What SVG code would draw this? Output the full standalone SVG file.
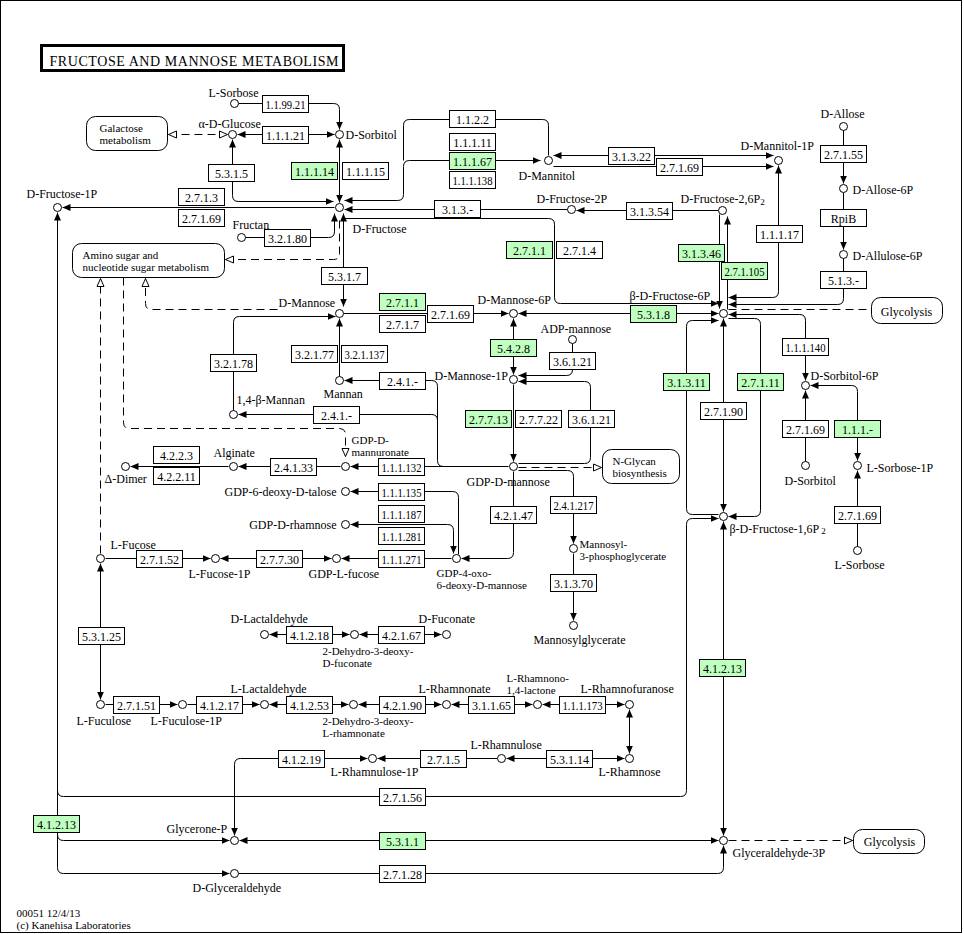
<svg xmlns="http://www.w3.org/2000/svg" width="964" height="934" viewBox="0 0 964 934">
<defs>
<style>
.l{fill:none;stroke:#000;stroke-width:1}
.d{fill:none;stroke:#000;stroke-width:1;stroke-dasharray:8,5}
.n circle{fill:#fff;stroke:#000;stroke-width:1}
.e rect{fill:#fff;stroke:#000;stroke-width:1}
.g rect{fill:#bfffbf;stroke:#000;stroke-width:1}
.m rect{fill:#fff;stroke:#000;stroke-width:1}
text{font-family:"Liberation Serif","Times New Roman",serif;font-size:12px;fill:#000}
.e text,.g text,.t{text-anchor:middle}
.r{text-anchor:end}
.s{font-size:9px}
.k{font-size:11px}
</style>
<marker id="a" viewBox="0 0 8 8" refX="8" refY="4" markerWidth="8" markerHeight="8" markerUnits="userSpaceOnUse" orient="auto-start-reverse"><path d="M0,0.5 L8,4 L0,7.5 z" fill="#000"/></marker>
<marker id="h" viewBox="0 0 10 10" refX="9" refY="5" markerWidth="10" markerHeight="10" markerUnits="userSpaceOnUse" orient="auto-start-reverse"><path d="M1,1.5 L9,5 L1,8.5 z" fill="#fff" stroke="#000" stroke-width="1" stroke-dasharray="none"/></marker>
</defs>
<rect x="0" y="0" width="964" height="934" fill="#fff"/>
<g transform="translate(0.5,0.5)">
<rect x="0" y="0" width="961" height="932" fill="none" stroke="#000"/>
<g id="title">
<rect x="41" y="45" width="302" height="25" fill="#fff" stroke="#000" stroke-width="3"/>
<text x="49" y="65" style="font-size:14px" textLength="289" lengthAdjust="spacing">FRUCTOSE AND MANNOSE METABOLISM</text>
</g>

<g id="connectors">
<path class="l" d="M238,103 H333 Q339,103 339,109 V129" marker-end="url(#a)"/>
<path class="l" d="M237,134 H334" marker-start="url(#a)" marker-end="url(#a)"/>
<path class="d" d="M168,134 H227" marker-start="url(#h)" marker-end="url(#h)"/>
<path class="l" d="M232,139 V195 Q232,201 238,201 H333" marker-start="url(#a)" marker-end="url(#a)"/>
<path class="l" d="M339,139 V202" marker-start="url(#a)" marker-end="url(#a)"/>
<path class="l" d="M334,207 H62" marker-end="url(#a)"/>
<path class="l" d="M245,237 H328 Q334,237 334,231 V213" marker-end="url(#a)"/>
<path class="l" d="M343,213 V306" marker-start="url(#a)" marker-end="url(#a)"/>
<path class="l" d="M343,218 H548 Q554,218 554,224 V297 Q554,303 560,303 H718" marker-end="url(#a)"/>
<path class="d" d="M339,220 V253 Q339,259 333,259 H225" marker-end="url(#h)"/>
<path class="l" d="M540,160 H409 Q403,160 403,166 V194 Q403,200 397,200 H344" marker-start="url(#a)" marker-end="url(#a)"/>
<path class="l" d="M548,155 V125 Q548,119 542,119 H409 Q403,119 403,125 V160"/>
<path class="l" d="M567,209 H344" marker-end="url(#a)"/>
<path class="l" d="M718,210 H576" marker-end="url(#a)"/>
<path class="l" d="M773,155 H553" marker-start="url(#a)" marker-end="url(#a)"/>
<path class="l" d="M553,166 H773" marker-end="url(#a)"/>
<path class="l" d="M778,165 V291 Q778,297 772,297 H728" marker-start="url(#a)" marker-end="url(#a)"/>
<path class="l" d="M719,214 V308" marker-end="url(#a)"/>
<path class="l" d="M727,309 V216" marker-end="url(#a)"/>
<path class="l" d="M843,258 V298 Q843,304 837,304 H728" marker-end="url(#a)"/>
<path class="l" d="M843,130 V183" marker-end="url(#a)"/>
<path class="l" d="M843,192 V249" marker-end="url(#a)"/>
<path class="d" d="M728,309 H871"/>
<path class="l" d="M728,314 H799 Q805,314 805,320 V380" marker-start="url(#a)" marker-end="url(#a)"/>
<path class="l" d="M805,461 V390" marker-end="url(#a)"/>
<path class="l" d="M810,385 H851 Q857,385 857,391 V460" marker-start="url(#a)" marker-end="url(#a)"/>
<path class="l" d="M857,546 V470" marker-end="url(#a)"/>
<path class="l" d="M518,313 H718" marker-start="url(#a)" marker-end="url(#a)"/>
<path class="l" d="M718,514 H692 Q686,514 686,508 V326 Q686,320 692,320 H718" marker-end="url(#a)"/>
<path class="l" d="M728,318 H754 Q760,318 760,324 V510 Q760,516 754,516 H728" marker-end="url(#a)"/>
<path class="l" d="M723,318 V511" marker-start="url(#a)" marker-end="url(#a)"/>
<path class="l" d="M57,790 Q57,796 63,796 H680 Q686,796 686,790 V524 Q686,518 692,518 H718" marker-end="url(#a)"/>
<path class="l" d="M57,212 V867 Q57,873 63,873 H229" marker-start="url(#a)" marker-end="url(#a)"/>
<path class="l" d="M57,834 Q57,840 63,840 H229" marker-end="url(#a)"/>
<path class="l" d="M239,840 H718" marker-start="url(#a)" marker-end="url(#a)"/>
<path class="l" d="M238,873 H717 Q723,873 723,867 V845" marker-end="url(#a)"/>
<path class="l" d="M723,521 V835" marker-start="url(#a)" marker-end="url(#a)"/>
<path class="d" d="M728,840 H852" marker-end="url(#h)"/>
<path class="l" d="M367,758 H240 Q234,758 234,764 V835" marker-start="url(#a)" marker-end="url(#a)"/>
<path class="l" d="M497,758 H377" marker-end="url(#a)"/>
<path class="l" d="M624,758 H506" marker-start="url(#a)" marker-end="url(#a)"/>
<path class="l" d="M629,709 V753" marker-start="url(#a)" marker-end="url(#a)"/>
<path class="l" d="M542,704 H624" marker-start="url(#a)" marker-end="url(#a)"/>
<path class="l" d="M451,704 H532" marker-start="url(#a)" marker-end="url(#a)"/>
<path class="l" d="M358,704 H441" marker-start="url(#a)" marker-end="url(#a)"/>
<path class="l" d="M269,704 H348" marker-start="url(#a)" marker-end="url(#a)"/>
<path class="l" d="M187,704 H259" marker-end="url(#a)"/>
<path class="l" d="M105,704 H177" marker-end="url(#a)"/>
<path class="l" d="M100,563 V699" marker-start="url(#a)" marker-end="url(#a)"/>
<path class="l" d="M269,634 H349" marker-start="url(#a)" marker-end="url(#a)"/>
<path class="l" d="M359,634 H441" marker-start="url(#a)" marker-end="url(#a)"/>
<path class="l" d="M105,558 H210" marker-end="url(#a)"/>
<path class="l" d="M220,558 H331" marker-start="url(#a)" marker-end="url(#a)"/>
<path class="l" d="M451,558 H341" marker-end="url(#a)"/>
<path class="l" d="M513,471 V552 Q513,558 507,558 H461" marker-end="url(#a)"/>
<path class="l" d="M458,554 V497 Q458,491 452,491 H350" marker-end="url(#a)"/>
<path class="l" d="M350,524 H447 Q453,524 453,530 V553" marker-start="url(#a)" marker-end="url(#a)"/>
<path class="l" d="M508,466 H350" marker-end="url(#a)"/>
<path class="l" d="M443,466 Q437,466 437,460 V386 Q437,380 431,380 H344" marker-end="url(#a)"/>
<path class="l" d="M437,420 Q437,414 431,414 H238" marker-end="url(#a)"/>
<path class="l" d="M339,376 V318" marker-end="url(#a)"/>
<path class="l" d="M233,410 V322 Q233,316 239,316 H335" marker-end="url(#a)"/>
<path class="l" d="M343,313 H508" marker-end="url(#a)"/>
<path class="l" d="M513,318 V374" marker-start="url(#a)" marker-end="url(#a)"/>
<path class="l" d="M572,343 V369 Q572,375 566,375 H518" marker-end="url(#a)"/>
<path class="l" d="M518,463 H584 Q590,463 590,457 V387 Q590,381 584,381 H518" marker-end="url(#a)"/>
<path class="l" d="M513,384 V461" marker-end="url(#a)"/>
<path class="d" d="M518,467 H601" marker-end="url(#h)"/>
<path class="l" d="M518,470 H567 Q573,470 573,476 V543" marker-end="url(#a)"/>
<path class="l" d="M573,553 V620" marker-end="url(#a)"/>
<path class="l" d="M340,466 H238" marker-end="url(#a)"/>
<path class="l" d="M228,466 H130" marker-end="url(#a)"/>
<path class="d" d="M100,553 V278" marker-end="url(#h)"/>
<path class="d" d="M123,277 V422 Q123,428 129,428 H339 Q345,428 345,434 V456" marker-end="url(#h)"/>
<path class="d" d="M277,309 H151 Q145,309 145,303 V278" marker-end="url(#h)"/>
</g>

<g id="maps">
<g id="m_galactose" class="m"><rect x="86" y="116" width="81" height="34" rx="9"/><text x="99" y="131" class="k">Galactose</text><text x="99" y="143" class="k">metabolism</text></g>
<g id="m_aminosugar" class="m"><rect x="72" y="243" width="152" height="34" rx="9"/><text x="82" y="258" class="k">Amino sugar and</text><text x="82" y="270" class="k">nucleotide sugar metabolism</text></g>
<g id="m_glycolysis1" class="m"><rect x="871" y="297" width="71" height="26" rx="9"/><text x="906" y="315" class="t">Glycolysis</text></g>
<g id="m_nglycan" class="m"><rect x="602" y="449" width="77" height="34" rx="9"/><text x="612" y="464" class="k">N-Glycan</text><text x="612" y="476" class="k">biosynthesis</text></g>
<g id="m_glycolysis2" class="m"><rect x="853" y="829" width="71" height="24" rx="9"/><text x="889" y="845" class="t">Glycolysis</text></g>
</g>

<g id="compounds">
<g id="c_lsorbose" class="n"><circle cx="234" cy="103" r="4"/><text x="208" y="96">L-Sorbose</text></g>
<g id="c_aglucose" class="n"><circle cx="232" cy="134" r="4"/><text x="198" y="127">α-D-Glucose</text></g>
<g id="c_dsorbitol" class="n"><circle cx="339" cy="134" r="4"/><text x="345" y="138">D-Sorbitol</text></g>
<g id="c_dfructose" class="n"><circle cx="339" cy="207" r="4"/><text x="352" y="232">D-Fructose</text></g>
<g id="c_dfructose1p" class="n"><circle cx="57" cy="207" r="4"/><text x="26" y="197">D-Fructose-1P</text></g>
<g id="c_fructan" class="n"><circle cx="241" cy="237" r="4"/><text x="232" y="228">Fructan</text></g>
<g id="c_dmannitol" class="n"><circle cx="548" cy="160" r="4"/><text x="518" y="179">D-Mannitol</text></g>
<g id="c_dmannitol1p" class="n"><circle cx="778" cy="160" r="4"/><text x="740" y="149">D-Mannitol-1P</text></g>
<g id="c_dfructose2p" class="n"><circle cx="571" cy="209" r="4"/><text x="536" y="202">D-Fructose-2P</text></g>
<g id="c_dfructose26p2" class="n"><circle cx="722" cy="210" r="4"/><text x="680" y="202">D-Fructose-2,6P<tspan class="s" dy="2">2</tspan></text></g>
<g id="c_dallose" class="n"><circle cx="843" cy="126" r="4"/><text x="820" y="117">D-Allose</text></g>
<g id="c_dallose6p" class="n"><circle cx="843" cy="188" r="4"/><text x="852" y="193">D-Allose-6P</text></g>
<g id="c_dallulose6p" class="n"><circle cx="843" cy="254" r="4"/><text x="852" y="259">D-Allulose-6P</text></g>
<g id="c_bfructose6p" class="n"><circle cx="723" cy="313" r="4"/><text x="629" y="299">β-D-Fructose-6P</text></g>
<g id="c_dmannose" class="n"><circle cx="339" cy="313" r="4"/><text x="278" y="306">D-Mannose</text></g>
<g id="c_dmannose6p" class="n"><circle cx="513" cy="313" r="4"/><text x="477" y="303">D-Mannose-6P</text></g>
<g id="c_adpmannose" class="n"><circle cx="572" cy="339" r="4"/><text x="540" y="332">ADP-mannose</text></g>
<g id="c_dmannose1p" class="n"><circle cx="513" cy="379" r="4"/><text x="434" y="379">D-Mannose-1P</text></g>
<g id="c_mannan" class="n"><circle cx="339" cy="380" r="4"/><text x="323" y="397">Mannan</text></g>
<g id="c_14bmannan" class="n"><circle cx="233" cy="414" r="4"/><text x="236" y="403">1,4-β-Mannan</text></g>
<g id="c_gdpdmannuronate" class="n"><circle cx="345" cy="466" r="4"/><text x="351" y="443" class="k">GDP-D-</text><text x="351" y="455" class="k">mannuronate</text></g>
<g id="c_alginate" class="n"><circle cx="233" cy="466" r="4"/><text x="213" y="456">Alginate</text></g>
<g id="c_ddimer" class="n"><circle cx="125" cy="466" r="4"/><text x="104" y="482">Δ-Dimer</text></g>
<g id="c_gdpdmannose" class="n"><circle cx="513" cy="466" r="4"/><text x="466" y="485">GDP-D-mannose</text></g>
<g id="c_gdptalose" class="n"><circle cx="345" cy="491" r="4"/><text x="336" y="495" class="r">GDP-6-deoxy-D-talose</text></g>
<g id="c_gdprhamnose" class="n"><circle cx="345" cy="524" r="4"/><text x="336" y="528" class="r">GDP-D-rhamnose</text></g>
<g id="c_gdp4oxo" class="n"><circle cx="456" cy="558" r="4"/><text x="436" y="576" class="k">GDP-4-oxo-</text><text x="436" y="588" class="k">6-deoxy-D-mannose</text></g>
<g id="c_gdplfucose" class="n"><circle cx="336" cy="558" r="4"/><text x="308" y="577">GDP-L-fucose</text></g>
<g id="c_lfucose1p" class="n"><circle cx="215" cy="558" r="4"/><text x="188" y="577">L-Fucose-1P</text></g>
<g id="c_lfucose" class="n"><circle cx="100" cy="558" r="4"/><text x="110" y="548">L-Fucose</text></g>
<g id="c_mannosyl3pg" class="n"><circle cx="573" cy="548" r="4"/><text x="579" y="547" class="k">Mannosyl-</text><text x="579" y="559" class="k">3-phosphoglycerate</text></g>
<g id="c_mannosylglycerate" class="n"><circle cx="573" cy="625" r="4"/><text x="533" y="643">Mannosylglycerate</text></g>
<g id="c_dlactaldehyde" class="n"><circle cx="264" cy="634" r="4"/><text x="230" y="622">D-Lactaldehyde</text></g>
<g id="c_dhdfuconate" class="n"><circle cx="354" cy="634" r="4"/><text x="322" y="654" class="k">2-Dehydro-3-deoxy-</text><text x="322" y="666" class="k">D-fuconate</text></g>
<g id="c_dfuconate" class="n"><circle cx="446" cy="634" r="4"/><text x="418" y="622">D-Fuconate</text></g>
<g id="c_lfuculose" class="n"><circle cx="100" cy="704" r="4"/><text x="76" y="724">L-Fuculose</text></g>
<g id="c_lfuculose1p" class="n"><circle cx="182" cy="704" r="4"/><text x="150" y="724">L-Fuculose-1P</text></g>
<g id="c_llactaldehyde" class="n"><circle cx="264" cy="704" r="4"/><text x="230" y="692">L-Lactaldehyde</text></g>
<g id="c_dhdlrhamnonate" class="n"><circle cx="353" cy="704" r="4"/><text x="322" y="724" class="k">2-Dehydro-3-deoxy-</text><text x="322" y="736" class="k">L-rhamnonate</text></g>
<g id="c_lrhamnonate" class="n"><circle cx="446" cy="704" r="4"/><text x="418" y="692">L-Rhamnonate</text></g>
<g id="c_lrhamnonolactone" class="n"><circle cx="537" cy="704" r="4"/><text x="506" y="681" class="k">L-Rhamnono-</text><text x="506" y="693" class="k">1,4-lactone</text></g>
<g id="c_lrhamnofuranose" class="n"><circle cx="629" cy="704" r="4"/><text x="580" y="692">L-Rhamnofuranose</text></g>
<g id="c_lrhamnose" class="n"><circle cx="629" cy="758" r="4"/><text x="598" y="775">L-Rhamnose</text></g>
<g id="c_lrhamnulose" class="n"><circle cx="501" cy="758" r="4"/><text x="470" y="748">L-Rhamnulose</text></g>
<g id="c_lrhamnulose1p" class="n"><circle cx="372" cy="758" r="4"/><text x="330" y="775">L-Rhamnulose-1P</text></g>
<g id="c_glyceronep" class="n"><circle cx="234" cy="840" r="4"/><text x="166" y="832">Glycerone-P</text></g>
<g id="c_dglyceraldehyde" class="n"><circle cx="234" cy="873" r="4"/><text x="192" y="891">D-Glyceraldehyde</text></g>
<g id="c_g3p" class="n"><circle cx="723" cy="840" r="4"/><text x="732" y="856">Glyceraldehyde-3P</text></g>
<g id="c_bfructose16p2" class="n"><circle cx="723" cy="516" r="4"/><text x="729" y="532">β-D-Fructose-1,6P<tspan class="s" dx="2" dy="1">2</tspan></text></g>
<g id="c_dsorbitol6p" class="n"><circle cx="805" cy="385" r="4"/><text x="810" y="379">D-Sorbitol-6P</text></g>
<g id="c_dsorbitol2" class="n"><circle cx="805" cy="465" r="4"/><text x="784" y="484">D-Sorbitol</text></g>
<g id="c_lsorbose1p" class="n"><circle cx="857" cy="465" r="4"/><text x="866" y="471">L-Sorbose-1P</text></g>
<g id="c_lsorbose2" class="n"><circle cx="857" cy="550" r="4"/><text x="834" y="568">L-Sorbose</text></g>
</g>

<g id="enzymes">
<g id="e_1_1_99_21" class="e"><rect x="262" y="95" width="46" height="17"/><text x="285" y="108" textLength="40" lengthAdjust="spacingAndGlyphs">1.1.99.21</text></g>
<g id="e_1_1_1_21" class="e"><rect x="262" y="126" width="46" height="17"/><text x="285" y="139">1.1.1.21</text></g>
<g id="e_5_3_1_5" class="e"><rect x="208" y="164" width="46" height="17"/><text x="231" y="177">5.3.1.5</text></g>
<g id="e_1_1_1_14" class="g"><rect x="291" y="162" width="46" height="17"/><text x="314" y="175">1.1.1.14</text></g>
<g id="e_1_1_1_15" class="e"><rect x="342" y="162" width="46" height="17"/><text x="365" y="175">1.1.1.15</text></g>
<g id="e_2_7_1_3" class="e"><rect x="178" y="188" width="46" height="17"/><text x="201" y="201">2.7.1.3</text></g>
<g id="e_2_7_1_69a" class="e"><rect x="178" y="209" width="46" height="17"/><text x="201" y="222">2.7.1.69</text></g>
<g id="e_3_2_1_80" class="e"><rect x="264" y="229" width="46" height="17"/><text x="287" y="242">3.2.1.80</text></g>
<g id="e_5_3_1_7" class="e"><rect x="321" y="267" width="46" height="17"/><text x="344" y="280">5.3.1.7</text></g>
<g id="e_1_1_2_2" class="e"><rect x="449" y="110" width="46" height="17"/><text x="472" y="123">1.1.2.2</text></g>
<g id="e_1_1_1_11" class="e"><rect x="449" y="133" width="46" height="17"/><text x="472" y="146">1.1.1.11</text></g>
<g id="e_1_1_1_67" class="g"><rect x="449" y="152" width="46" height="17"/><text x="472" y="165">1.1.1.67</text></g>
<g id="e_1_1_1_138" class="e"><rect x="449" y="171" width="46" height="17"/><text x="472" y="184" textLength="40" lengthAdjust="spacingAndGlyphs">1.1.1.138</text></g>
<g id="e_3_1_3_22" class="e"><rect x="608" y="147" width="46" height="17"/><text x="631" y="160">3.1.3.22</text></g>
<g id="e_2_7_1_69b" class="e"><rect x="656" y="158" width="46" height="17"/><text x="679" y="171">2.7.1.69</text></g>
<g id="e_3_1_3_x" class="e"><rect x="434" y="200" width="46" height="17"/><text x="457" y="213">3.1.3.-</text></g>
<g id="e_3_1_3_54" class="e"><rect x="626" y="202" width="46" height="17"/><text x="649" y="215">3.1.3.54</text></g>
<g id="e_2_7_1_1a" class="g"><rect x="506" y="241" width="46" height="17"/><text x="529" y="254">2.7.1.1</text></g>
<g id="e_2_7_1_4" class="e"><rect x="556" y="241" width="46" height="17"/><text x="579" y="254">2.7.1.4</text></g>
<g id="e_1_1_1_17" class="e"><rect x="756" y="225" width="46" height="17"/><text x="779" y="238">1.1.1.17</text></g>
<g id="e_2_7_1_55" class="e"><rect x="820" y="145" width="46" height="17"/><text x="843" y="158">2.7.1.55</text></g>
<g id="e_rpib" class="e"><rect x="820" y="209" width="46" height="17"/><text x="843" y="222">RpiB</text></g>
<g id="e_5_1_3_x" class="e"><rect x="820" y="271" width="46" height="17"/><text x="843" y="284">5.1.3.-</text></g>
<g id="e_3_1_3_46" class="g"><rect x="678" y="244" width="46" height="17"/><text x="701" y="257">3.1.3.46</text></g>
<g id="e_2_7_1_105" class="g"><rect x="721" y="262" width="46" height="17"/><text x="744" y="275" textLength="40" lengthAdjust="spacingAndGlyphs">2.7.1.105</text></g>
<g id="e_5_3_1_8" class="g"><rect x="630" y="305" width="46" height="17"/><text x="653" y="318">5.3.1.8</text></g>
<g id="e_2_7_1_1b" class="g"><rect x="379" y="293" width="46" height="17"/><text x="402" y="306">2.7.1.1</text></g>
<g id="e_2_7_1_7" class="e"><rect x="379" y="315" width="46" height="17"/><text x="402" y="328">2.7.1.7</text></g>
<g id="e_2_7_1_69c" class="e"><rect x="427" y="305" width="46" height="17"/><text x="450" y="318">2.7.1.69</text></g>
<g id="e_3_2_1_77" class="e"><rect x="291" y="345" width="46" height="17"/><text x="314" y="358">3.2.1.77</text></g>
<g id="e_3_2_1_137" class="e"><rect x="341" y="345" width="46" height="17"/><text x="364" y="358" textLength="40" lengthAdjust="spacingAndGlyphs">3.2.1.137</text></g>
<g id="e_3_2_1_78" class="e"><rect x="210" y="354" width="46" height="17"/><text x="233" y="367">3.2.1.78</text></g>
<g id="e_2_4_1_xa" class="e"><rect x="379" y="372" width="46" height="17"/><text x="402" y="385">2.4.1.-</text></g>
<g id="e_2_4_1_xb" class="e"><rect x="313" y="406" width="46" height="17"/><text x="336" y="419">2.4.1.-</text></g>
<g id="e_5_4_2_8" class="g"><rect x="490" y="339" width="46" height="17"/><text x="513" y="352">5.4.2.8</text></g>
<g id="e_3_6_1_21a" class="e"><rect x="549" y="352" width="46" height="17"/><text x="572" y="365">3.6.1.21</text></g>
<g id="e_2_7_7_13" class="g"><rect x="465" y="410" width="46" height="17"/><text x="488" y="423">2.7.7.13</text></g>
<g id="e_2_7_7_22" class="e"><rect x="515" y="410" width="46" height="17"/><text x="538" y="423">2.7.7.22</text></g>
<g id="e_3_6_1_21b" class="e"><rect x="568" y="410" width="46" height="17"/><text x="591" y="423">3.6.1.21</text></g>
<g id="e_1_1_1_132" class="e"><rect x="378" y="458" width="46" height="17"/><text x="401" y="471" textLength="40" lengthAdjust="spacingAndGlyphs">1.1.1.132</text></g>
<g id="e_2_4_1_33" class="e"><rect x="270" y="458" width="46" height="17"/><text x="293" y="471">2.4.1.33</text></g>
<g id="e_4_2_2_3" class="e"><rect x="153" y="446" width="46" height="17"/><text x="176" y="459">4.2.2.3</text></g>
<g id="e_4_2_2_11" class="e"><rect x="153" y="467" width="46" height="17"/><text x="176" y="480">4.2.2.11</text></g>
<g id="e_1_1_1_135" class="e"><rect x="378" y="483" width="46" height="17"/><text x="401" y="496" textLength="40" lengthAdjust="spacingAndGlyphs">1.1.1.135</text></g>
<g id="e_1_1_1_187" class="e"><rect x="378" y="505" width="46" height="17"/><text x="401" y="518" textLength="40" lengthAdjust="spacingAndGlyphs">1.1.1.187</text></g>
<g id="e_1_1_1_281" class="e"><rect x="378" y="527" width="46" height="17"/><text x="401" y="540" textLength="40" lengthAdjust="spacingAndGlyphs">1.1.1.281</text></g>
<g id="e_1_1_1_271" class="e"><rect x="378" y="550" width="46" height="17"/><text x="401" y="563" textLength="40" lengthAdjust="spacingAndGlyphs">1.1.1.271</text></g>
<g id="e_2_7_7_30" class="e"><rect x="256" y="550" width="46" height="17"/><text x="279" y="563">2.7.7.30</text></g>
<g id="e_2_7_1_52" class="e"><rect x="136" y="550" width="46" height="17"/><text x="159" y="563">2.7.1.52</text></g>
<g id="e_4_2_1_47" class="e"><rect x="490" y="506" width="46" height="17"/><text x="513" y="519">4.2.1.47</text></g>
<g id="e_2_4_1_217" class="e"><rect x="550" y="496" width="46" height="17"/><text x="573" y="509" textLength="40" lengthAdjust="spacingAndGlyphs">2.4.1.217</text></g>
<g id="e_3_1_3_70" class="e"><rect x="550" y="574" width="46" height="17"/><text x="573" y="587">3.1.3.70</text></g>
<g id="e_5_3_1_25" class="e"><rect x="78" y="627" width="46" height="17"/><text x="101" y="640">5.3.1.25</text></g>
<g id="e_4_1_2_18" class="e"><rect x="286" y="626" width="46" height="17"/><text x="309" y="639">4.1.2.18</text></g>
<g id="e_4_2_1_67" class="e"><rect x="378" y="626" width="46" height="17"/><text x="401" y="639">4.2.1.67</text></g>
<g id="e_2_7_1_51" class="e"><rect x="113" y="696" width="46" height="17"/><text x="136" y="709">2.7.1.51</text></g>
<g id="e_4_1_2_17" class="e"><rect x="196" y="696" width="46" height="17"/><text x="219" y="709">4.1.2.17</text></g>
<g id="e_4_1_2_53" class="e"><rect x="286" y="696" width="46" height="17"/><text x="309" y="709">4.1.2.53</text></g>
<g id="e_4_2_1_90" class="e"><rect x="379" y="696" width="46" height="17"/><text x="402" y="709">4.2.1.90</text></g>
<g id="e_3_1_1_65" class="e"><rect x="468" y="696" width="46" height="17"/><text x="491" y="709">3.1.1.65</text></g>
<g id="e_1_1_1_173" class="e"><rect x="559" y="696" width="46" height="17"/><text x="582" y="709" textLength="40" lengthAdjust="spacingAndGlyphs">1.1.1.173</text></g>
<g id="e_4_1_2_19" class="e"><rect x="278" y="750" width="46" height="17"/><text x="301" y="763">4.1.2.19</text></g>
<g id="e_2_7_1_5" class="e"><rect x="420" y="750" width="46" height="17"/><text x="443" y="763">2.7.1.5</text></g>
<g id="e_5_3_1_14" class="e"><rect x="546" y="750" width="46" height="17"/><text x="569" y="763">5.3.1.14</text></g>
<g id="e_2_7_1_56" class="e"><rect x="379" y="788" width="46" height="17"/><text x="402" y="801">2.7.1.56</text></g>
<g id="e_5_3_1_1" class="g"><rect x="379" y="832" width="46" height="17"/><text x="402" y="845">5.3.1.1</text></g>
<g id="e_2_7_1_28" class="e"><rect x="379" y="865" width="46" height="17"/><text x="402" y="878">2.7.1.28</text></g>
<g id="e_4_1_2_13a" class="g"><rect x="33" y="815" width="46" height="17"/><text x="56" y="828">4.1.2.13</text></g>
<g id="e_4_1_2_13b" class="g"><rect x="699" y="659" width="46" height="17"/><text x="722" y="672">4.1.2.13</text></g>
<g id="e_3_1_3_11" class="g"><rect x="663" y="373" width="46" height="17"/><text x="686" y="386">3.1.3.11</text></g>
<g id="e_2_7_1_11" class="g"><rect x="737" y="373" width="46" height="17"/><text x="760" y="386">2.7.1.11</text></g>
<g id="e_2_7_1_90" class="e"><rect x="700" y="402" width="46" height="17"/><text x="723" y="415">2.7.1.90</text></g>
<g id="e_1_1_1_140" class="e"><rect x="782" y="338" width="46" height="17"/><text x="805" y="351" textLength="40" lengthAdjust="spacingAndGlyphs">1.1.1.140</text></g>
<g id="e_2_7_1_69d" class="e"><rect x="782" y="420" width="46" height="17"/><text x="805" y="433">2.7.1.69</text></g>
<g id="e_1_1_1_x" class="g"><rect x="834" y="420" width="46" height="17"/><text x="857" y="433">1.1.1.-</text></g>
<g id="e_2_7_1_69e" class="e"><rect x="834" y="506" width="46" height="17"/><text x="857" y="519">2.7.1.69</text></g>
</g>

<g id="footer">
<text x="16" y="916" class="k">00051 12/4/13</text>
<text x="16" y="928" class="k">(c) Kanehisa Laboratories</text>
</g>
</g>
</svg>
